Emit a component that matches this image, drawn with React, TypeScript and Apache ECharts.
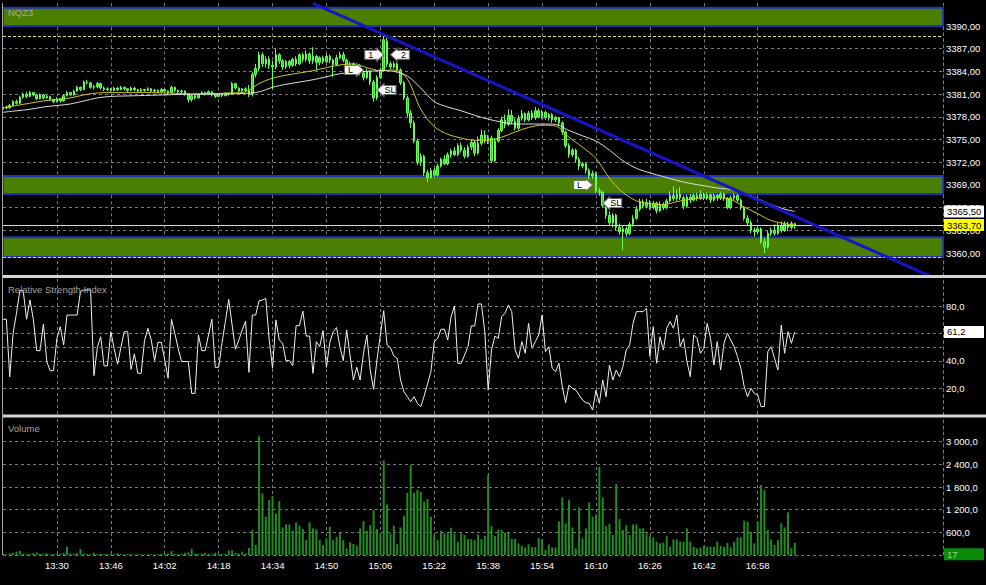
import React, { useEffect, useRef } from "react";
import * as echarts from "echarts";

const FONT = "'Liberation Sans', Arial, sans-serif";
const START_MIN = 13 * 60 + 14;
const CATEGORY_COUNT = 280;
const LAST_LABELED_BAR = 235;
const pad2 = (n: number) => String(n).padStart(2, "0");
const categories: string[] = Array.from({ length: CATEGORY_COUNT }, (_, i) => {
  const m = START_MIN + i;
  return `${pad2(Math.floor(m / 60))}:${pad2(m % 60)}`;
});

// [open, close, low, high]
const candles: number[][] = [
  [3379.0,3379.3,3378.9,3379.5],[3379.3,3379.2,3379.0,3379.5],[3379.2,3379.5,3379.1,3379.7],[3379.5,3380.0,3379.4,3380.2],
  [3380.0,3379.8,3379.6,3380.3],[3379.8,3380.6,3379.7,3380.8],[3380.6,3381.0,3380.4,3381.2],[3381.0,3380.7,3380.5,3381.3],
  [3380.7,3381.2,3380.6,3381.4],[3381.2,3380.9,3380.7,3381.3],[3380.9,3380.4,3380.2,3381.0],[3380.4,3380.9,3380.3,3381.1],
  [3380.9,3380.5,3380.3,3381.0],[3380.5,3380.7,3380.4,3380.9],[3380.7,3380.3,3380.1,3380.8],[3380.3,3380.0,3379.8,3380.4],
  [3380.0,3380.4,3379.9,3380.6],[3380.4,3380.1,3379.9,3380.5],[3380.1,3380.8,3380.0,3381.0],[3380.8,3381.2,3380.7,3381.4],
  [3381.2,3380.9,3380.7,3381.3],[3380.9,3381.4,3380.8,3381.6],[3381.4,3381.9,3381.3,3382.1],[3381.9,3381.6,3381.4,3382.0],
  [3381.6,3382.6,3381.5,3382.8],[3382.6,3382.5,3382.3,3382.9],[3382.5,3381.9,3381.7,3382.6],[3381.9,3382.0,3381.6,3382.2],
  [3382.0,3382.4,3381.8,3382.6],[3382.4,3381.8,3381.6,3382.5],[3381.8,3381.6,3381.4,3382.0],[3381.6,3381.7,3381.4,3381.9],
  [3381.7,3381.5,3381.3,3381.8],[3381.5,3381.8,3381.4,3382.0],[3381.8,3381.6,3381.4,3381.9],[3381.6,3381.9,3381.5,3382.1],
  [3381.9,3381.7,3381.5,3382.0],[3381.7,3381.5,3381.3,3381.8],[3381.5,3381.8,3381.4,3382.0],[3381.8,3381.6,3381.4,3381.9],
  [3381.6,3381.4,3381.2,3381.7],[3381.4,3381.6,3381.3,3381.8],[3381.6,3381.5,3381.3,3381.7],[3381.5,3381.7,3381.4,3381.9],
  [3381.7,3381.4,3381.2,3381.8],[3381.4,3381.5,3381.2,3381.7],[3381.5,3381.3,3381.1,3381.6],[3381.3,3381.6,3381.2,3381.8],
  [3381.6,3381.4,3381.2,3381.7],[3381.4,3381.2,3381.0,3381.5],[3381.2,3381.9,3381.1,3382.1],[3381.9,3381.5,3381.3,3382.0],
  [3381.5,3381.3,3381.1,3381.6],[3381.3,3381.4,3381.1,3381.6],[3381.4,3381.0,3380.8,3381.5],[3381.0,3380.3,3379.9,3381.1],
  [3380.3,3380.8,3380.0,3381.0],[3380.8,3380.5,3380.3,3381.0],[3380.5,3381.0,3380.4,3381.1],[3381.0,3381.2,3380.9,3381.4],
  [3381.2,3381.0,3380.8,3381.3],[3381.0,3381.3,3380.9,3381.5],[3381.3,3380.9,3380.7,3381.4],[3380.9,3380.7,3380.5,3381.1],
  [3380.7,3381.0,3380.6,3381.1],[3381.0,3380.8,3380.6,3381.1],[3380.8,3381.1,3380.7,3381.3],[3381.1,3381.0,3380.8,3381.2],
  [3381.0,3382.4,3380.9,3382.6],[3382.4,3381.8,3381.6,3382.5],[3381.8,3381.4,3381.2,3381.9],[3381.4,3381.7,3381.3,3381.8],
  [3381.7,3381.5,3381.3,3381.9],[3381.5,3381.0,3380.6,3382.2],[3381.0,3383.6,3380.7,3383.9],[3383.6,3384.4,3383.2,3385.0],
  [3384.4,3386.2,3384.0,3386.6],[3386.2,3385.0,3384.6,3386.5],[3385.0,3385.6,3384.5,3386.0],[3385.6,3384.8,3384.3,3386.0],
  [3384.8,3384.6,3381.7,3385.4],[3384.6,3386.2,3384.3,3387.0],[3386.2,3385.4,3385.0,3386.4],[3385.4,3384.6,3384.2,3385.6],
  [3384.6,3385.3,3384.3,3385.5],[3385.3,3384.8,3384.4,3385.5],[3384.8,3385.6,3384.6,3385.8],[3385.6,3385.0,3384.7,3386.0],
  [3385.0,3386.2,3384.8,3386.4],[3386.2,3385.6,3385.2,3386.5],[3385.6,3386.3,3385.3,3386.8],[3386.3,3385.4,3385.0,3386.5],
  [3385.4,3386.0,3385.0,3387.2],[3386.0,3385.2,3384.2,3386.2],[3385.2,3385.8,3384.8,3386.0],[3385.8,3385.3,3385.0,3386.1],
  [3385.3,3386.0,3385.1,3386.3],[3386.0,3385.5,3385.1,3386.2],[3385.5,3384.9,3383.3,3385.7],[3384.9,3385.8,3384.7,3386.2],
  [3385.8,3386.2,3385.6,3386.6],[3386.2,3385.5,3385.2,3386.6],[3385.5,3384.8,3384.4,3385.7],[3384.8,3385.0,3384.5,3385.3],
  [3385.0,3384.4,3384.1,3385.2],[3384.4,3384.8,3384.2,3385.0],[3384.8,3383.8,3383.5,3385.0],[3383.8,3383.2,3382.8,3384.1],
  [3383.2,3384.0,3383.0,3384.4],[3384.0,3382.6,3382.2,3384.2],[3382.6,3380.5,3380.0,3382.9],[3380.5,3383.2,3380.2,3383.5],
  [3383.2,3384.2,3383.0,3384.5],[3384.2,3388.2,3384.0,3388.7],[3388.0,3385.0,3384.6,3388.5],[3385.0,3384.6,3384.3,3385.3],
  [3384.6,3385.0,3384.4,3385.3],[3385.0,3384.2,3383.9,3385.2],[3384.2,3382.5,3382.2,3384.4],[3382.5,3380.5,3380.2,3382.7],
  [3380.5,3378.5,3378.0,3380.8],[3378.5,3377.2,3376.5,3378.9],[3377.2,3374.8,3374.5,3377.5],[3374.8,3372.0,3371.6,3375.1],
  [3372.0,3372.8,3371.5,3373.2],[3372.8,3370.6,3370.2,3373.0],[3370.6,3370.0,3369.4,3371.0],[3370.0,3370.9,3369.8,3371.2],
  [3370.9,3370.3,3370.0,3371.3],[3370.3,3371.5,3370.1,3371.8],[3371.5,3372.4,3371.3,3372.6],[3372.4,3371.8,3371.6,3372.9],
  [3371.8,3373.0,3371.6,3373.3],[3373.0,3373.5,3372.6,3373.8],[3373.5,3373.0,3372.8,3374.0],[3373.0,3374.2,3372.8,3374.5],
  [3374.2,3373.6,3373.3,3374.6],[3373.6,3372.8,3372.5,3374.0],[3372.8,3374.0,3372.6,3374.3],[3374.0,3374.6,3373.6,3375.0],
  [3374.6,3373.2,3372.8,3374.9],[3373.2,3374.5,3373.0,3375.4],[3374.5,3375.6,3374.2,3376.3],[3375.6,3374.8,3374.5,3376.2],
  [3374.8,3375.2,3374.4,3375.6],[3375.2,3372.2,3371.9,3375.5],[3372.2,3374.8,3372.0,3375.2],[3374.8,3376.2,3374.6,3376.5],
  [3376.2,3377.6,3376.0,3378.0],[3377.6,3377.0,3376.5,3378.3],[3377.0,3378.2,3376.8,3379.0],[3378.2,3377.4,3377.0,3378.9],
  [3377.4,3376.5,3376.2,3377.8],[3376.5,3377.8,3376.3,3378.2],[3377.8,3378.4,3377.5,3378.9],[3378.4,3377.6,3377.3,3378.6],
  [3377.6,3378.5,3377.4,3378.8],[3378.5,3377.9,3377.6,3378.9],[3377.9,3378.8,3377.6,3379.3],[3378.8,3378.0,3377.8,3379.1],
  [3378.0,3378.6,3377.7,3378.9],[3378.6,3377.9,3377.6,3378.8],[3377.9,3378.3,3377.5,3378.5],[3378.3,3377.6,3377.2,3378.5],
  [3377.6,3377.9,3377.3,3378.1],[3377.9,3377.2,3376.8,3378.0],[3377.2,3376.0,3375.6,3377.4],[3376.0,3374.2,3373.9,3376.2],
  [3374.2,3373.0,3372.6,3374.5],[3373.0,3373.6,3372.7,3373.9],[3373.6,3372.4,3372.0,3373.8],[3372.4,3371.5,3371.0,3372.7],
  [3371.5,3371.8,3371.2,3372.0],[3371.8,3370.9,3370.5,3372.0],[3370.9,3370.2,3369.8,3371.2],[3370.2,3370.5,3369.8,3370.9],
  [3370.5,3368.2,3367.9,3370.7],[3368.2,3368.0,3367.6,3368.6],[3368.0,3366.3,3366.0,3368.3],[3366.3,3365.0,3364.5,3366.6],
  [3365.0,3364.0,3363.6,3365.5],[3364.0,3365.0,3363.4,3365.3],[3365.0,3363.4,3363.0,3365.2],[3363.4,3362.8,3362.4,3363.9],
  [3362.8,3363.2,3360.4,3363.6],[3363.2,3362.6,3362.2,3363.5],[3362.6,3363.8,3362.4,3364.1],[3363.8,3364.6,3363.5,3365.0],
  [3364.6,3365.8,3364.4,3366.2],[3365.8,3366.8,3365.5,3367.2],[3366.8,3366.2,3365.9,3367.1],[3366.2,3366.7,3365.9,3367.2],
  [3366.7,3366.0,3365.7,3367.0],[3366.0,3366.6,3365.8,3366.9],[3366.6,3365.6,3365.2,3366.8],[3365.6,3366.4,3365.4,3366.8],
  [3366.4,3366.0,3365.7,3366.7],[3366.0,3366.9,3365.8,3367.2],[3366.9,3367.6,3366.7,3368.2],[3367.6,3367.2,3366.9,3368.8],
  [3367.2,3367.8,3366.9,3368.4],[3367.8,3367.3,3367.0,3368.7],[3367.3,3366.2,3365.8,3367.6],[3366.2,3367.4,3366.0,3367.7],
  [3367.4,3367.0,3366.6,3367.8],[3367.0,3367.6,3366.8,3367.9],[3367.6,3367.2,3366.9,3368.0],[3367.2,3367.8,3367.0,3368.3],
  [3367.8,3367.3,3367.0,3368.0],[3367.3,3367.7,3367.0,3368.0],[3367.7,3367.0,3366.6,3367.9],[3367.0,3367.6,3366.8,3367.9],
  [3367.6,3367.3,3366.9,3367.8],[3367.3,3367.8,3367.0,3368.1],[3367.8,3367.2,3366.9,3368.0],[3367.2,3366.0,3365.8,3367.4],
  [3366.0,3367.3,3365.8,3367.6],[3367.3,3367.6,3367.0,3367.9],[3367.6,3367.0,3366.7,3367.8],[3367.0,3366.0,3365.7,3367.2],
  [3366.0,3364.6,3364.3,3366.2],[3364.6,3364.0,3363.6,3365.0],[3364.0,3363.0,3362.6,3364.3],[3363.0,3362.8,3362.2,3363.4],
  [3362.8,3363.2,3362.5,3363.5],[3363.2,3361.5,3361.2,3363.4],[3361.5,3360.8,3360.0,3362.0],[3360.8,3362.6,3360.6,3362.9],
  [3362.6,3363.0,3362.3,3363.4],[3363.0,3362.6,3362.3,3363.8],[3362.6,3363.6,3362.4,3364.0],[3363.6,3363.0,3362.7,3364.2],
  [3363.0,3363.8,3362.8,3364.2],[3363.8,3363.4,3362.9,3364.1],[3363.4,3363.9,3363.1,3364.2],[3363.9,3363.7,3363.2,3364.0],
];

// moving averages read every 4th bar (last one at bar 235)
const MA_STEP = 4;
const MA_LAST_BAR = 235;
const fastMA = [
  3379.2,3379.5,3379.8,3380.1,3380.3,3380.5,3380.9,3381.15,3381.2,3381.2,
  3381.2,3381.2,3381.15,3381.1,3381.0,3381.05,3381.1,3381.15,3381.3,3382.4,
  3383.1,3383.5,3383.8,3384.1,3384.5,3384.85,3385.0,3384.5,3384.1,3384.2,
  3383.0,3379.0,3376.7,3375.7,3375.2,3374.9,3374.9,3375.3,3376.0,3376.6,
  3376.9,3376.8,3375.3,3374.0,3372.5,3369.9,3368.0,3366.9,3366.5,3366.4,
  3366.8,3367.1,3367.3,3367.3,3367.1,3366.1,3365.2,3364.3,3363.9,3363.7,
];
const slowMA = [
  3378.6,3378.8,3379.0,3379.3,3379.5,3379.7,3380.1,3380.5,3380.7,3380.75,
  3380.8,3380.85,3380.9,3380.95,3381.0,3381.0,3381.0,3381.05,3381.1,3381.3,
  3381.9,3382.3,3382.6,3382.9,3383.3,3383.7,3383.9,3384.0,3384.1,3384.0,
  3383.4,3381.8,3380.0,3379.3,3378.8,3378.2,3377.7,3377.3,3377.05,3377.05,
  3377.05,3377.0,3376.2,3375.5,3374.8,3373.6,3372.2,3371.2,3370.6,3370.1,
  3369.6,3369.2,3368.9,3368.6,3368.4,3367.9,3367.2,3366.4,3365.8,3365.5,
];

const rsi = [
  70.5,70.5,28.4,60.2,74.9,91.5,91.5,70.5,84.6,70.5,
  47.5,47.5,67.0,39.5,32.8,32.8,56.5,65.1,51.7,73.6,
  73.6,73.6,73.6,90.8,91.9,91.9,91.9,29.2,50.0,57.7,
  36.3,36.3,61.4,49.0,37.5,50.0,61.4,61.4,33.8,45.1,
  30.9,30.9,54.8,63.9,55.3,40.2,53.6,53.6,40.7,27.2,
  70.5,60.2,49.1,39.5,39.5,39.5,16.2,16.2,59.0,47.5,
  47.5,59.0,70.5,35.3,35.3,52.9,68.8,85.1,66.3,48.5,
  55.3,62.7,69.0,31.6,73.6,73.6,84.1,84.6,85.8,55.8,
  34.6,70.0,55.3,52.9,40.2,40.2,36.5,65.8,65.8,76.5,
  58.2,58.2,30.9,54.1,50.4,62.2,35.3,53.4,61.4,64.4,
  50.4,40.2,62.7,44.3,26.0,35.3,26.0,45.6,59.0,33.3,
  19.1,40.7,59.0,76.8,51.7,49.7,43.6,41.9,26.0,17.4,
  13.8,10.1,13.8,8.9,6.5,14.3,23.0,32.1,54.1,56.5,
  63.2,63.2,55.3,72.4,80.2,38.2,38.2,44.3,50.4,65.6,
  65.6,81.7,81.7,61.4,18.6,48.0,58.2,
  56.5,72.4,74.9,80.9,76.1,48.0,41.9,54.1,45.6,67.5,
  49.1,54.1,59.0,73.6,46.8,50.4,34.6,32.1,38.2,21.1,
  9.4,22.3,19.9,18.6,15.0,11.3,9.4,8.9,4.0,18.6,
  8.9,26.0,13.8,37.0,26.0,33.3,28.4,35.8,48.0,51.7,
  67.5,76.1,76.1,76.1,78.5,43.2,65.1,38.2,57.7,48.0,
  63.9,68.8,63.9,73.6,50.4,56.5,39.5,28.4,59.0,56.5,
  45.6,49.1,67.5,56.5,37.0,54.1,33.3,52.9,60.2,55.3,
  50.4,43.2,34.6,21.1,13.8,19.9,16.2,15.0,6.5,6.5,
  46.8,50.4,41.9,33.3,66.3,45.6,61.4,52.9,61.2,
];

const volume = [
  30,25,40,60,90,110,40,30,25,50,
  70,30,40,45,20,30,25,35,60,220,
  40,30,50,160,40,30,20,60,30,25,
  20,30,25,20,50,30,20,25,20,15,
  25,20,15,20,25,15,20,25,30,40,
  105,30,25,35,60,70,170,40,30,35,
  60,30,25,60,30,25,30,120,125,60,
  40,90,40,185,
  661,264,3145,1630,1013,1454,1560,1101,1428,731,
  810,810,643,863,775,687,396,863,705,679,
  396,264,440,749,396,484,590,396,176,335,
  290,238,705,899,643,793,1189,687,573,2502,
  1339,573,775,282,731,1030,1648,2379,1648,1718,
  1674,1410,1480,1013,529,396,643,573,573,722,
  573,352,573,529,423,423,396,546,423,511,
  2115,766,502,
  678,661,590,590,423,423,308,238,203,282,
  211,211,449,423,132,282,203,203,890,1524,
  837,1454,731,176,1260,440,705,1392,1013,1075,
  2335,1524,766,819,529,1877,952,661,793,529,
  810,810,705,705,573,502,467,352,308,326,
  502,220,414,414,352,352,705,352,220,176,
  194,238,220,220,220,352,238,220,317,203,
  352,467,467,907,881,617,308,881,1850,1718,
  661,414,264,396,837,731,1128,176,326,
];

const priceBands = [[3390.0, 3392.4], [3367.8, 3370.2], [3359.5, 3362.1]];
const dashedLevels = [3388.7, 3359.4];
const lastPrice = 3363.7;
const slowLast = 3365.5;
const rsiLast = 61.2;
const volumeLast = 17;
const trendLine = [[92, 3393.0], [275, 3357.0]];
const signals = [
  { bar: 107, price: 3384.2, text: "L", dir: "right" },
  { bar: 113, price: 3386.2, text: "1", dir: "right" },
  { bar: 115, price: 3386.2, text: "2", dir: "left" },
  { bar: 111, price: 3381.55, text: "SL", dir: "left" },
  { bar: 175, price: 3369.0, text: "L", dir: "right" },
  { bar: 178, price: 3366.6, text: "SL", dir: "left" },
];

const RIGHT_ARROW = "path://M0,2L12,2L12,0L19,6.5L12,13L12,11L0,11Z";
const LEFT_ARROW = "path://M19,2L7,2L7,0L0,6.5L7,13L7,11L19,11Z";

const comma = (v: number, d: number) => v.toFixed(d).replace(".", ",");
const volFmt = (v: number) => {
  if (v >= 1000) return `${Math.floor(v / 1000)} ${String(v % 1000).padStart(3, "0")},0`;
  return `${v},0`;
};

function maSeriesData(values: number[]) {
  const out: (number | null)[] = Array.from({ length: MA_LAST_BAR + 1 }, () => null);
  values.forEach((v, k) => {
    const idx = k < values.length - 1 ? k * MA_STEP : MA_LAST_BAR;
    out[idx] = v;
  });
  return out;
}

export default function App() {
  const ref = useRef<HTMLDivElement>(null);
  useEffect(() => {
    if (!ref.current) return;
    const chart = echarts.init(ref.current, undefined, { renderer: "svg" });
    const gridLine = { color: "#7a7a7a", type: [3, 3], width: 1 };
    const hiddenLine = { color: "rgba(0,0,0,0)", width: 0 };
    const splitInterval = (idx: number) => idx > 0 && idx % 16 === 0 && idx <= LAST_LABELED_BAR;
    const grids = [
      { left: 3, top: 3.3, width: 940, height: 272.5 },
      { left: 3, top: 279, width: 940, height: 136.5 },
      { left: 3, top: 419, width: 940, height: 136 },
    ];
    const xAxes = [0, 1, 2].map((g) => ({
      type: "category",
      gridIndex: g,
      data: categories,
      boundaryGap: false,
      axisLine: { show: false },
      axisTick: { show: false },
      axisLabel: {
        show: g === 2,
        interval: splitInterval,
        color: "#ffffff",
        fontSize: 9.5,
        fontFamily: FONT,
        margin: 5,
      },
      splitLine: { show: true, interval: splitInterval, lineStyle: gridLine },
    }));
    const yBase = (g: number, min: number, max: number, interval: number, fmt: (v: number) => string) => ({
      type: "value",
      gridIndex: g,
      position: "right",
      min,
      max,
      interval,
      axisLine: { show: true, lineStyle: { color: "#7a7a7a", type: [3, 3] } },
      axisTick: { show: false },
      axisLabel: {
        color: "#ffffff",
        fontSize: 9.5,
        fontFamily: FONT,
        margin: 3,
        formatter: (v: number) => (v === min || v === max ? "" : fmt(v)),
      },
      splitLine: { show: true, showMaxLine: false, lineStyle: gridLine },
    });
    const boxLabel = (text: string, bg: string, fg: string) => ({
      show: true,
      position: "end",
      formatter: text,
      backgroundColor: bg,
      color: fg,
      fontSize: 9.5,
      fontFamily: FONT,
      padding: [1, 3, 1, 3],
      width: 34,
      distance: 1,
    });
    const nulls = categories.map(() => null);

    chart.setOption({
      animation: false,
      backgroundColor: "#000000",
      grid: grids,
      xAxis: xAxes,
      yAxis: [
        yBase(0, 3357, 3393, 3, (v) => comma(v, 2)),
        yBase(1, 0, 100, 20, (v) => comma(v, 1)),
        yBase(2, 0, 3600, 600, volFmt),
      ],
      series: [
        {
          name: "bands",
          type: "line",
          xAxisIndex: 0,
          yAxisIndex: 0,
          data: nulls,
          z: 1,
          silent: true,
          symbol: "none",
          markArea: {
            silent: true,
            itemStyle: { color: "#4b7f00", borderColor: "#2233b4", borderWidth: 2 },
            data: priceBands.map((b) => [{ yAxis: b[0] }, { yAxis: b[1] }]),
          },
        },
        {
          name: "NQZ3",
          type: "candlestick",
          xAxisIndex: 0,
          yAxisIndex: 0,
          data: candles,
          barWidth: 2,
          z: 2,
          itemStyle: {
            color: "#2fd62f",
            color0: "#2fd62f",
            borderColor: "#66ff55",
            borderColor0: "#66ff55",
            borderWidth: 1,
          },
        },
        {
          name: "fast",
          type: "line",
          xAxisIndex: 0,
          yAxisIndex: 0,
          data: maSeriesData(fastMA),
          connectNulls: true,
          smooth: 0.3,
          symbol: "none",
          z: 3,
          lineStyle: { color: "#d2c41c", width: 1 },
        },
        {
          name: "slow",
          type: "line",
          xAxisIndex: 0,
          yAxisIndex: 0,
          data: maSeriesData(slowMA),
          connectNulls: true,
          smooth: 0.3,
          symbol: "none",
          z: 3,
          lineStyle: { color: "#dcdcdc", width: 1 },
        },
        {
          name: "overlay",
          type: "line",
          xAxisIndex: 0,
          yAxisIndex: 0,
          data: nulls,
          symbol: "none",
          z: 5,
          markLine: {
            silent: true,
            symbol: "none",
            label: { show: false },
            data: [
              ...dashedLevels.map((v) => ({
                yAxis: v,
                lineStyle: { color: "#e4e44a", type: [3, 2], width: 1 },
              })),
              {
                yAxis: lastPrice,
                lineStyle: { color: "#d8d8d8", type: "solid", width: 1 },
                label: boxLabel(comma(lastPrice, 2), "#ffff00", "#000000"),
              },
              {
                yAxis: slowLast,
                lineStyle: hiddenLine,
                label: boxLabel(comma(slowLast, 2), "#ffffff", "#000000"),
              },
              [
                {
                  coord: [categories[trendLine[0][0]], trendLine[0][1]],
                  lineStyle: { color: "#1616c8", width: 3, type: "solid" },
                },
                { coord: [categories[trendLine[1][0]], trendLine[1][1]] },
              ],
            ],
          },
          markPoint: {
            silent: true,
            data: signals.map((s) => ({
              coord: [categories[s.bar], s.price],
              symbol: s.dir === "right" ? RIGHT_ARROW : LEFT_ARROW,
              symbolSize: [19, 13],
              symbolOffset: [s.dir === "right" ? -9.5 : 9.5, 0],
              itemStyle: { color: "#ffffff", borderColor: "#6a6a6a", borderWidth: 1 },
              label: {
                show: true,
                position: "inside",
                formatter: s.text,
                offset: [s.dir === "right" ? -3.5 : 3.5, 0],
                color: "#000000",
                fontSize: 9,
                fontFamily: FONT,
              },
            })),
          },
        },
        {
          name: "Relative Strength Index",
          type: "line",
          xAxisIndex: 1,
          yAxisIndex: 1,
          data: rsi,
          symbol: "none",
          z: 3,
          lineStyle: { color: "#f0f0f0", width: 1 },
          markLine: {
            silent: true,
            symbol: "none",
            label: { show: false },
            data: [
              { yAxis: 50, lineStyle: gridLine },
              { yAxis: rsiLast, lineStyle: hiddenLine, label: boxLabel(comma(rsiLast, 1), "#ffffff", "#000000") },
            ],
          },
        },
        {
          name: "Volume",
          type: "bar",
          xAxisIndex: 2,
          yAxisIndex: 2,
          data: volume,
          barWidth: 2,
          z: 3,
          itemStyle: { color: "#1f8d1f" },
          markLine: {
            silent: true,
            symbol: "none",
            data: [
              {
                yAxis: volumeLast,
                lineStyle: hiddenLine,
                label: boxLabel(String(volumeLast), "#0b8a0b", "#9fd09f"),
              },
            ],
          },
        },
      ],
      graphic: [
        { type: "rect", silent: true, z: 50, shape: { x: 2, y: 3, width: 1, height: 552 }, style: { fill: "#a0a0a0" } },
        { type: "rect", silent: true, z: 50, shape: { x: 3, y: 275, width: 983, height: 3 }, style: { fill: "#d4d4d4" } },
        { type: "rect", silent: true, z: 50, shape: { x: 3, y: 414.5, width: 983, height: 3 }, style: { fill: "#d4d4d4" } },
        { type: "text", silent: true, z: 50, left: 8, top: 7, style: { text: "NQZ3", fill: "#a8a8a8", fontSize: 9.5, fontFamily: FONT } },
        { type: "text", silent: true, z: 50, left: 8, top: 284, style: { text: "Relative Strength Index", fill: "#a0a0a0", fontSize: 9.5, fontFamily: FONT } },
        { type: "text", silent: true, z: 50, left: 8, top: 423, style: { text: "Volume", fill: "#a0a0a0", fontSize: 9.5, fontFamily: FONT } },
      ],
    });
    return () => chart.dispose();
  }, []);
  return (
    <div
      ref={ref}
      style={{ position: "fixed", left: 0, top: 0, width: 986, height: 585, background: "#000" }}
    />
  );
}
